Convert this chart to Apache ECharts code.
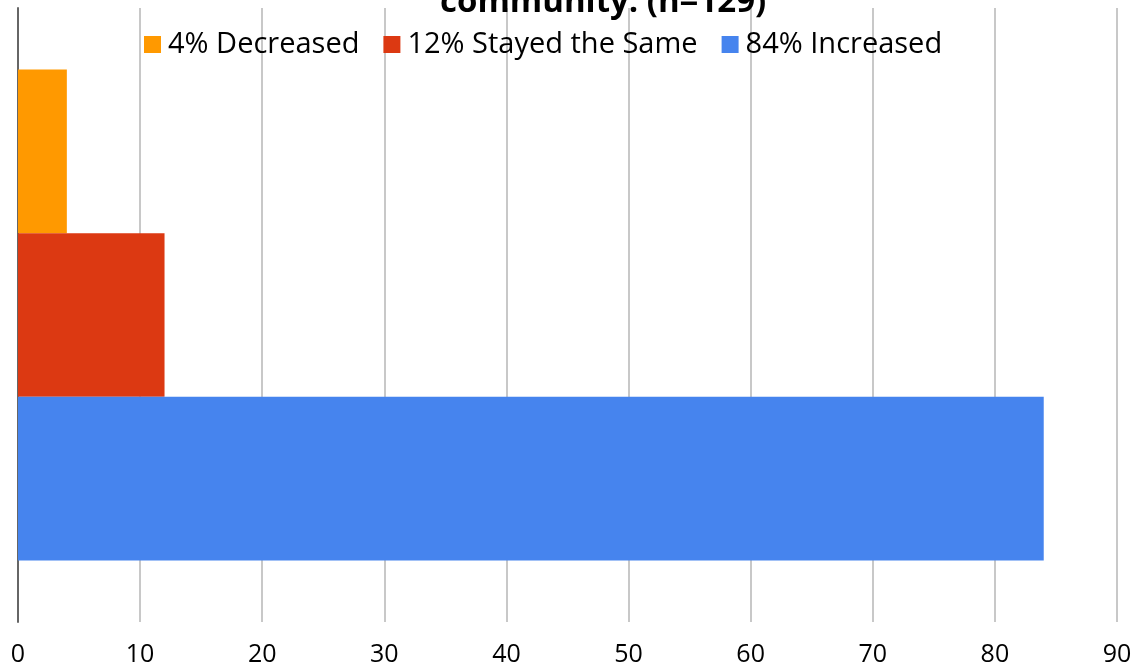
<!DOCTYPE html>
<html>
<head>
<meta charset="utf-8">
<script src="https://cdn.jsdelivr.net/npm/echarts@6/dist/echarts.min.js"></script>
<style>
  html, body { margin: 0; padding: 0; background: #fff; }
  #chart { width: 1143px; height: 670px; }
</style>
</head>
<body>
<div id="chart"></div>
<script>
const categories = ['']
const seriesNames = ['4% Decreased', '12% Stayed the Same', '84% Increased']
const seriesValues = [[4], [12], [84]]
const seriesColors = ['#ff9900', '#dc3912', '#4684ee']
const xTicks = { min: 0, max: 90, interval: 10 }

const chart = echarts.init(document.getElementById('chart'))
const font = 'Open Sans'

const option = {
  animation: false,
  title: {
    text: 'community. (n=129)',
    left: 435,
    top: -19,
    textStyle: { fontFamily: font, fontSize: 33, fontWeight: 'bold', color: '#000' }
  },
  legend: {
    data: seriesNames,
    top: 25,
    left: 139,
    itemWidth: 17,
    itemHeight: 17,
    itemGap: 24,
    icon: 'rect',
    textStyle: { fontFamily: font, fontSize: 29, color: '#000', padding: [0, 0, 0, 2] }
  },
  grid: { left: 18, right: 26, top: 8, bottom: 48 },
  xAxis: {
    type: 'value',
    min: xTicks.min,
    max: xTicks.max,
    interval: xTicks.interval,
    axisLine: { show: false },
    axisTick: { show: false },
    axisLabel: { fontFamily: font, fontSize: 25, color: '#000', margin: 20 },
    splitLine: { lineStyle: { color: '#c8c8c8', width: 2 } }
  },
  yAxis: {
    type: 'category',
    data: categories,
    inverse: true,
    axisLine: { lineStyle: { color: '#666', width: 2 } },
    axisTick: { length: 8, lineStyle: { color: '#666', width: 2 } },
    axisLabel: { show: false }
  },
  series: seriesNames.map((name, i) => ({
    name,
    type: 'bar',
    data: seriesValues[i],
    barGap: '0%',
    barCategoryGap: '20%',
    itemStyle: { color: seriesColors[i] }
  }))
}
chart.setOption(option)
</script>
</body>
</html>
